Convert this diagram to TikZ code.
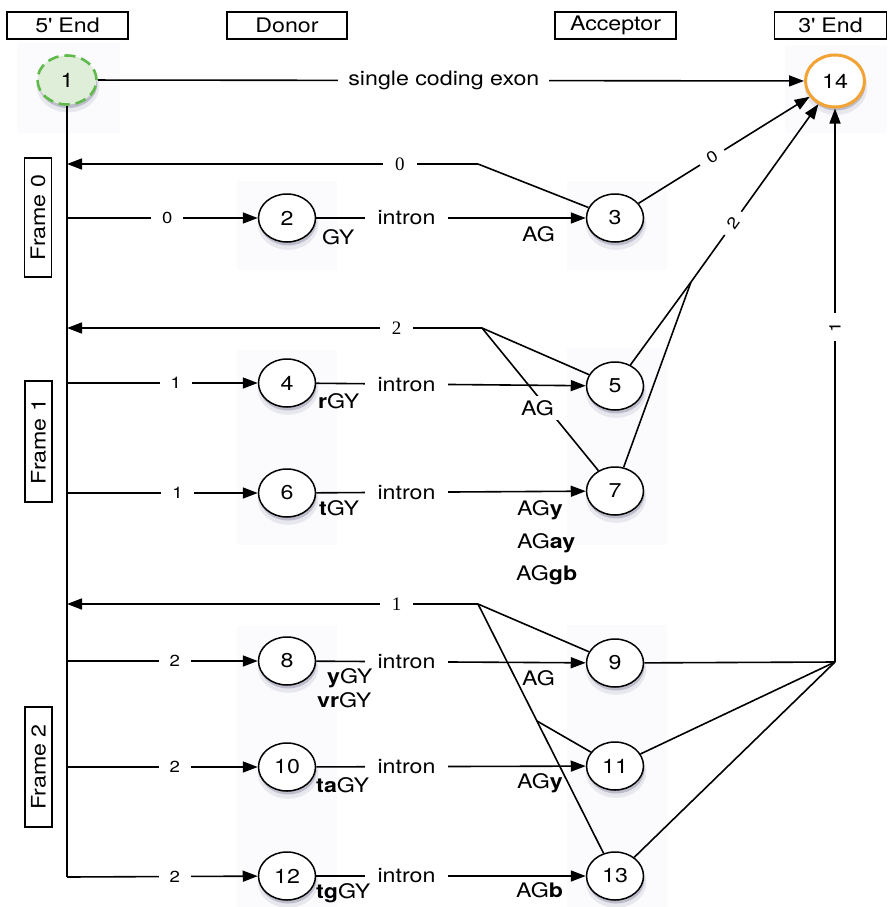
\documentclass[tikz,border=0pt]{standalone}
\usepackage{fontspec}
\setmainfont{TeX Gyre Heros}[FakeStretch=1.16]
\newfontfamily\serifdigits{Liberation Serif}
\usetikzlibrary{arrows.meta,shapes.geometric,shadows,calc}
\definecolor{bgc}{RGB}{251,251,254}
\definecolor{ngreen}{RGB}{95,185,75}
\definecolor{lgreen}{RGB}{222,238,216}
\definecolor{norange}{RGB}{242,163,52}
\definecolor{shad}{RGB}{60,60,100}
\begin{document}
\begin{tikzpicture}[x=1pt,y=-1pt,
  every node/.style={font=\fontsize{20}{22}\selectfont},
  st/.style={ellipse, draw, line width=1.5pt, fill=white, minimum width=57pt, minimum height=48pt, inner sep=0pt,
    drop shadow={shadow xshift=1pt, shadow yshift=-6pt, fill=shad, opacity=0.10, shadow scale=1.06},
    drop shadow={shadow xshift=1pt, shadow yshift=-3.5pt, fill=shad, opacity=0.25}},
  hdr/.style={draw, line width=1.1pt, minimum height=27pt, inner sep=0pt},
  frm/.style={draw, line width=1.1pt, minimum width=27pt, inner sep=0pt},
  ln/.style={line width=1.6pt},
  arr/.style={ln, -{Triangle[length=15pt,width=11pt]}},
  gaplab/.style={fill=white, inner ysep=1pt, inner xsep=#1},
  gaplab/.default=10pt,
  small/.style={font=\fontsize{16}{18}\selectfont},
  ser/.style={font=\serifdigits\fontsize{19}{21}\selectfont},
  sig/.style={anchor=west, inner sep=0pt}
]
\useasboundingbox (0,0) rectangle (887,907);
% faint backgrounds
\fill[bgc] (17,43) rectangle (120,133);
\fill[bgc] (785,45) rectangle (887,133);
\fill[bgc] (237,181) rectangle (337,270);
\fill[bgc] (237,350) rectangle (337,545);
\fill[bgc] (237,626) rectangle (337,907);
\fill[bgc] (567,181) rectangle (667,270);
\fill[bgc] (567,348) rectangle (667,545);
\fill[bgc] (567,625) rectangle (667,907);

% headers
\node[hdr, minimum width=121pt] (h5) at (67.5,25.5) {5\textquotesingle{} End};
\node[hdr, minimum width=120pt] (hd) at (287,25.5) {Donor};
\node[hdr, minimum width=121pt] (ha) at (615.5,25.5) {Acceptor};
\node[hdr, minimum width=112pt] (h3) at (830.5,25.5) {3\textquotesingle{} End};

% frame boxes
\node[frm, minimum height=119pt] (f0) at (38,217.5) {};
\node[rotate=90] (f0t) at (38,217.5) {Frame 0};
\node[frm, minimum height=121pt] (f1) at (38.5,441.5) {};
\node[rotate=90] (f1t) at (38.5,441.5) {Frame 1};
\node[frm, minimum height=120pt] (f2) at (38.5,767) {};
\node[rotate=90] (f2t) at (38.5,767) {Frame 2};

% nodes
\node[st, draw=ngreen, fill=lgreen, line width=2.6pt, dash pattern=on 11pt off 6pt, minimum width=59pt, minimum height=49pt] (n1) at (67,80) {1};
\node[st, draw=norange, line width=3pt, minimum width=59pt, minimum height=52pt] (n14) at (835,81) {14};
\node[st] (n2) at (287,218) {2};
\node[st] (n3) at (615,218) {3};
\node[st] (n4) at (287,383) {4};
\node[st] (n5) at (615,386) {5};
\node[st] (n6) at (287,493) {6};
\node[st] (n7) at (615,491) {7};
\node[st] (n8) at (287,661) {8};
\node[st] (n9) at (615,663) {9};
\node[st] (n10) at (287,767) {10};
\node[st] (n11) at (615,766) {11};
\node[st] (n12) at (287,876) {12};
\node[st] (n13) at (615,876) {13};

% coordinates
\coordinate (s0) at (67,164);
\coordinate (s2) at (67,328);
\coordinate (s1) at (67,604);
\coordinate (t2) at (67,218);
\coordinate (t4) at (67,383);
\coordinate (t6) at (67,493);
\coordinate (t8) at (67,661);
\coordinate (t10) at (67,767);
\coordinate (t12) at (67,877);
\coordinate (r0) at (478,164);
\coordinate (r2) at (482,328);
\coordinate (r1) at (478,604);
\coordinate (j2) at (691,282);
\coordinate (j1) at (835,662);
\coordinate (b11) at ($(r1)!0.43!(n13)$);

% single coding exon
\draw[arr] (n1) -- node[gaplab=10pt, pos=0.49] {single coding exon} (n14);

% spine
\draw[ln] (n1) -- (t12);

% donor arrows
\draw[arr] (t2) -- node[gaplab=11pt, small, pos=0.526] {0} (n2);
\draw[arr] (t4) -- node[gaplab=11pt, small, pos=0.57] {1} (n4);
\draw[arr] (t6) -- node[gaplab=11pt, small, pos=0.58] {1} (n6);
\draw[arr] (t8) -- node[gaplab=11pt, small, pos=0.565] {2} (n8);
\draw[arr] (t10) -- node[gaplab=11pt, small, pos=0.565] {2} (n10);
\draw[arr] (t12) -- node[gaplab=11pt, small, pos=0.565] {2} (n12);

% introns
\draw[arr] (n2) -- node[gaplab=13pt, pos=0.335] {intron} (n3);
\draw[arr] (n4) -- node[gaplab=13pt, pos=0.335] {intron} (n5);
\draw[arr] (n6) -- node[gaplab=13pt, pos=0.335] {intron} (n7);
\draw[arr] (n8) -- node[gaplab=13pt, pos=0.335] {intron} (n9);
\draw[arr] (n10) -- node[gaplab=13pt, pos=0.335] {intron} (n11);
\draw[arr] (n12) -- node[gaplab=13pt, pos=0.335] {intron} (n13);

% returns to 5' spine
\draw[ln] (n3) -- (r0);
\draw[arr] (r0) -- node[gaplab=12pt, ser, pos=0.19] {0} (s0);
\draw[ln] (n5) -- (r2);
\draw[ln] (n7) -- (r2);
\draw[arr] (r2) -- node[gaplab=12pt, ser, pos=0.206] {2} (s2);
\draw[ln] (n9) -- (r1);
\draw[ln] (n13) -- (r1);
\draw[ln] (n11) -- (b11);
\draw[arr] (r1) -- node[gaplab=12pt, ser, pos=0.198] {1} (s1);

% to 3' end
\draw[arr] (n3) -- node[gaplab=9pt, small, sloped, pos=0.43] {0} (n14);
\draw[ln] (n5) -- (j2);
\draw[ln] (n7) -- (j2);
\draw[arr] (j2) -- node[gaplab=9pt, small, sloped, pos=0.33] {2} (n14);
\draw[ln] (n9) -- (j1);
\draw[ln] (n11) -- (j1);
\draw[ln] (n13) -- (j1);
\draw[arr] (j1) -- node[gaplab=9pt, small, sloped, pos=0.605] {1} (n14.south);

% signal labels
\node[sig] (g2) at (322,237) {GY};
\node[sig] (g4) at (318,401) {\textbf{r}GY};
\node[sig] (g6) at (319,508) {\textbf{t}GY};
\node[sig] (g8a) at (327,678) {\textbf{y}GY};
\node[sig] (g8b) at (317,700) {\textbf{vr}GY};
\node[sig] (g10) at (316,785) {\textbf{ta}GY};
\node[sig] (g12) at (316,893) {\textbf{tg}GY};
\node[sig] (a3) at (522,234) {AG};
\node[sig, fill=white, inner sep=4pt] (a5) at (517,408) {AG};
\node[sig] (a7a) at (517,510) {AG\textbf{y}};
\node[sig] (a7b) at (517,543) {AG\textbf{ay}};
\node[sig] (a7c) at (516,575) {AG\textbf{gb}};
\node[sig] (a9) at (522,678) {AG};
\node[sig] (a11) at (517,783) {AG\textbf{y}};
\node[sig] (a13) at (516,890) {AG\textbf{b}};
\end{tikzpicture}
\end{document}
